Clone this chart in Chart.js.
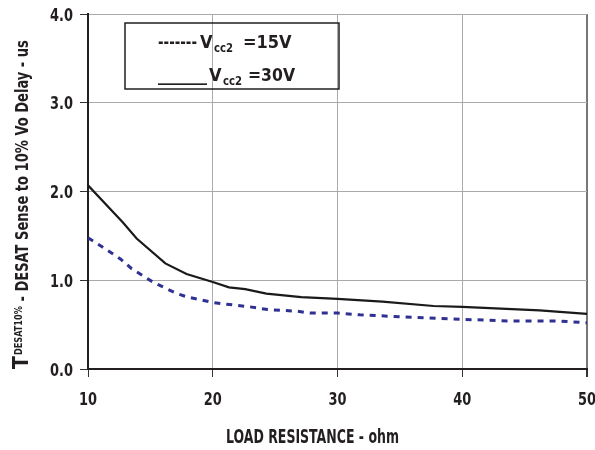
<!DOCTYPE html>
<html>
<head>
<meta charset="utf-8">
<script src="https://cdn.jsdelivr.net/npm/chart.js@4/dist/chart.umd.min.js"></script>
<style>
  html, body { margin: 0; padding: 0; background: #fff; }
  #wrap { width: 595px; height: 450px; position: relative; }
</style>
</head>
<body>
<div id="wrap"><canvas id="c" width="595" height="450"></canvas></div>
<script>
// ---- data ----
const loadOhm30 = [10, 12.8, 13.9, 16.2, 17.9, 20, 21.3, 22.6, 24.3, 27.1, 30, 33.6, 37.7, 40, 46.2, 50];
const delay30   = [2.07, 1.65, 1.47, 1.19, 1.07, 0.98, 0.92, 0.90, 0.85, 0.81, 0.79, 0.76, 0.71, 0.70, 0.66, 0.62];
const loadOhm15 = [10, 11.1, 12.6, 13.5, 15.2, 17.1, 18, 20, 21.1, 23, 24.4, 26.8, 27.8, 30, 31.8, 36.4, 40, 44, 47.8, 50];
const delay15   = [1.48, 1.38, 1.24, 1.13, 0.98, 0.85, 0.81, 0.75, 0.73, 0.70, 0.67, 0.65, 0.63, 0.63, 0.61, 0.58, 0.56, 0.54, 0.54, 0.52];
const xTicks = [10, 20, 30, 40, 50];
const yTicks = [0.0, 1.0, 2.0, 3.0, 4.0];
const xTickLabels = ['10', '20', '30', '40', '50'];
const yTickLabels = ['0.0', '1.0', '2.0', '3.0', '4.0'];
const xTitle = 'LOAD RESISTANCE - ohm';
const yTitleMain = 'T';
const yTitleSup = 'DESAT10%';
const yTitleRest = ' - DESAT Sense to 10% Vo Delay - us';
const legendLabels = [
  { lead: '-------', v: 'V', sub: 'cc2', tail: '=15V' },
  { lead: '_______', v: 'V', sub: 'cc2', tail: '=30V' }
];

const FONT = "'Liberation Sans Narrow', 'DejaVu Sans Condensed', 'Arial Narrow', sans-serif";
const INK = '#231f20';
const SQUEEZE = 0.8;

const toPts = (xs, ys) => xs.map((x, i) => ({ x: x, y: ys[i] }));

// draw text squeezed horizontally to a target width (emulates a condensed face)
function fitText(ctx, text, x, y, target) {
  const w = ctx.measureText(text).width;
  const k = Math.min(1, target / w);
  ctx.save();
  ctx.translate(x, y);
  ctx.scale(k, 1);
  ctx.fillText(text, 0, 0);
  ctx.restore();
  return w * k;
}
function squeezedText(ctx, text, x, y, align) {
  const w = ctx.measureText(text).width * SQUEEZE;
  let x0 = x;
  if (align === 'center') x0 = x - w / 2;
  else if (align === 'right') x0 = x - w;
  ctx.save();
  ctx.translate(x0, y);
  ctx.scale(SQUEEZE, 1);
  ctx.fillText(text, 0, 0);
  ctx.restore();
}

const decorPlugin = {
  id: 'decor',
  afterDraw(chart) {
    const ctx = chart.ctx;
    const xs = chart.scales.x, ys = chart.scales.y;
    ctx.save();
    ctx.fillStyle = INK;
    ctx.textBaseline = 'alphabetic';
    ctx.textAlign = 'left';

    // tick labels
    ctx.font = 'bold 18px ' + FONT;
    xTicks.forEach((v, i) => {
      squeezedText(ctx, xTickLabels[i], xs.getPixelForValue(v), 405, 'center');
    });
    yTicks.forEach((v, i) => {
      squeezedText(ctx, yTickLabels[i], 73, ys.getPixelForValue(v) + 6.5, 'right');
    });

    // x title
    ctx.font = 'bold 19px ' + FONT;
    fitText(ctx, xTitle, 226, 443, 173);

    // y title (rotated, with superscript)
    ctx.save();
    ctx.translate(28, 369);
    ctx.rotate(-Math.PI / 2);
    ctx.font = 'bold 21px ' + FONT;
    let w = fitText(ctx, yTitleMain, 0, 0, 16);
    ctx.font = 'bold 11px ' + FONT;
    w += fitText(ctx, yTitleSup, w + 1, -6, 49) + 1;
    ctx.font = 'bold 17px ' + FONT;
    fitText(ctx, yTitleRest, w, 0, 266);
    ctx.restore();

    // legend box
    ctx.strokeStyle = INK;
    ctx.lineWidth = 1.5;
    ctx.strokeRect(125, 23, 214, 66);
    const rows = [
      { y: 48, lead: [158, 39], v: 200, sub: 214, tail: [243, 50] },
      { y: 81, lead: [158, 49], v: 209, sub: 223, tail: [248, 47] }
    ];
    legendLabels.forEach((lab, i) => {
      const r = rows[i];
      ctx.font = 'bold 18px ' + FONT;
      fitText(ctx, lab.lead, r.lead[0], r.y, r.lead[1]);
      fitText(ctx, lab.v, r.v, r.y, 14);
      ctx.font = 'bold 13px ' + FONT;
      fitText(ctx, lab.sub, r.sub, r.y + 4, 19);
      ctx.font = 'bold 18px ' + FONT;
      fitText(ctx, lab.tail, r.tail[0], r.y, r.tail[1]);
    });
    ctx.restore();
  }
};

new Chart(document.getElementById('c'), {
  type: 'line',
  data: {
    datasets: [
      {
        label: 'Vcc2 = 15V',
        data: toPts(loadOhm15, delay15),
        borderColor: '#2e3192',
        borderWidth: 3,
        borderDash: [6, 6],
        pointRadius: 0,
        tension: 0,
        fill: false
      },
      {
        label: 'Vcc2 = 30V',
        data: toPts(loadOhm30, delay30),
        borderColor: '#1a1a1a',
        borderWidth: 2.2,
        pointRadius: 0,
        tension: 0,
        fill: false
      }
    ]
  },
  options: {
    responsive: false,
    animation: false,
    devicePixelRatio: 1,
    layout: { padding: { top: 14, right: 8, left: 0, bottom: 0 } },
    plugins: { legend: { display: false }, tooltip: { enabled: false } },
    scales: {
      x: {
        type: 'linear',
        min: 10, max: 50,
        afterBuildTicks: (s) => { s.ticks = xTicks.map(v => ({ value: v })); },
        afterFit: (s) => { s.height = 81; s.paddingLeft = 0; s.paddingRight = 0; },
        grid: {
          color: (c) => (c.tick && c.tick.value === 50) ? '#777' : '#aaa',
          lineWidth: (c) => (c.tick && c.tick.value === 50) ? 2 : 1,
          tickColor: '#333',
          tickLength: 8,
          drawTicks: true
        },
        border: { display: true, color: INK, width: 2 },
        ticks: {
          color: 'rgba(0,0,0,0)',
          font: { family: FONT, size: 18, weight: 'bold' },
          padding: 9,
          maxRotation: 0,
          callback: (v) => String(v)
        }
      },
      y: {
        type: 'linear',
        min: 0, max: 4,
        afterBuildTicks: (s) => { s.ticks = yTicks.map(v => ({ value: v })); },
        afterFit: (s) => { s.width = 88; s.paddingTop = 0; s.paddingBottom = 0; },
        grid: {
          color: '#aaa',
          lineWidth: 1,
          tickColor: '#333',
          tickLength: 8,
          drawTicks: true
        },
        border: { display: true, color: INK, width: 2 },
        ticks: {
          color: 'rgba(0,0,0,0)',
          font: { family: FONT, size: 18, weight: 'bold' },
          padding: 7,
          callback: (v) => Number(v).toFixed(1)
        }
      }
    }
  },
  plugins: [decorPlugin]
});
</script>
</body>
</html>
